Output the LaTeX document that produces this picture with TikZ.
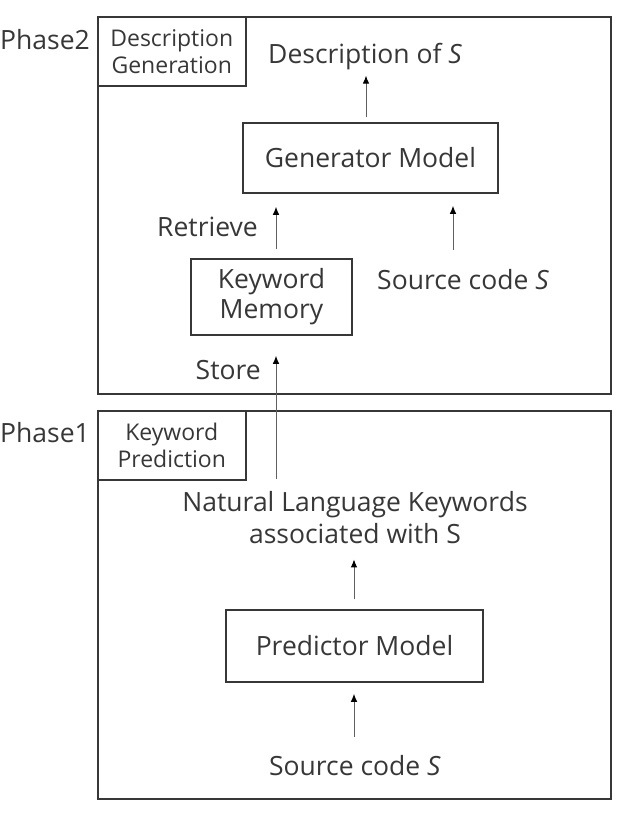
\documentclass[tikz,border=0pt]{standalone}
\usepackage{fontspec}
\setmainfont{Open Sans}
\usetikzlibrary{arrows,arrows.meta,positioning,calc}
\definecolor{inkgray}{RGB}{55,55,55}
\definecolor{arrgray}{RGB}{95,95,95}

\tikzset{
  txt/.style={inner sep=0pt, text=inkgray, font=\fontsize{26.5}{30}\selectfont},
  model/.style={txt, draw=inkgray, line width=1.5pt, align=center},
  frame/.style={draw=inkgray, line width=1.6pt, minimum width=513pt, anchor=north west, inner sep=0pt},
  tag/.style={model, font=\fontsize{23}{27}\selectfont, minimum width=148pt, minimum height=69pt, anchor=north west},
  arr/.style={-{Latex[length=8pt, width=6.5pt, color=black]}, draw=arrgray, line width=1pt}
}

\begin{document}
\begin{tikzpicture}[x=1pt, y=-1pt]
    \useasboundingbox (0,0) rectangle (620,814);

    % Phase 2 frame
    \node[frame, minimum height=377pt] (frametwo) at (97,16) {};
    \node[tag] (tagtwo) at (97,16) {Description\\Generation};
    \node[txt, anchor=base west] (phasetwo) at (0,49) {Phase2};

    % Phase 1 frame
    \node[frame, minimum height=388pt] (frameone) at (97,410) {};
    \node[tag] (tagone) at (97,410) {Keyword\\Prediction};
    \node[txt, anchor=base west] (phaseone) at (0,442) {Phase1};

    % Phase 2 contents
    \node[txt, anchor=base west] (desc) at (268,63) {Description of \textit{S}};
    \node[model, minimum width=255pt, minimum height=70pt] (gen) at (370.5,158) {Generator Model};
    \node[model, minimum width=161pt, minimum height=76pt, font=\fontsize{26.5}{30}\selectfont] (kwmem) at (271.5,297) {Keyword\\Memory};
    \node[txt, anchor=base east] (retrieve) at (258,236) {Retrieve};
    \node[txt, anchor=base west] (srctwo) at (377,289) {Source code \textit{S}};
    \node[txt, anchor=base east] (store) at (261,379) {Store};

    % Phase 1 contents
    \node[txt, align=center, font=\fontsize{26.5}{32}\selectfont] (keywords) at (355,518) {Natural Language Keywords\\associated with S};
    \node[model, minimum width=257pt, minimum height=72pt] (pred) at (354.5,646) {Predictor Model};
    \node[txt, anchor=base] (srcone) at (355,775) {Source code \textit{S}};

    % arrows
    \coordinate (descx) at (366,0);
    \coordinate (retx) at (276,0);
    \coordinate (srcx) at (453,0);
    \coordinate (predx) at (354,0);
    \coordinate (storetail) at (276,479);
    \draw[arr, shorten <=5pt, shorten >=6pt] (gen.north -| descx) -- (desc.south -| descx);
    \draw[arr, shorten <=9pt, shorten >=13pt] (kwmem.north -| retx) -- (gen.south -| retx);
    \draw[arr, shorten <=19pt, shorten >=12pt] (srctwo.north -| srcx) -- (gen.south -| srcx);
    \draw[arr, shorten >=20pt] (storetail) -- (kwmem.south -| storetail);
    \draw[arr, shorten <=10pt, shorten >=15pt] (pred.north -| predx) -- (keywords.south -| predx);
    \draw[arr, shorten <=18pt, shorten >=11pt] (srcone.north -| predx) -- (pred.south -| predx);
\end{tikzpicture}
\end{document}
